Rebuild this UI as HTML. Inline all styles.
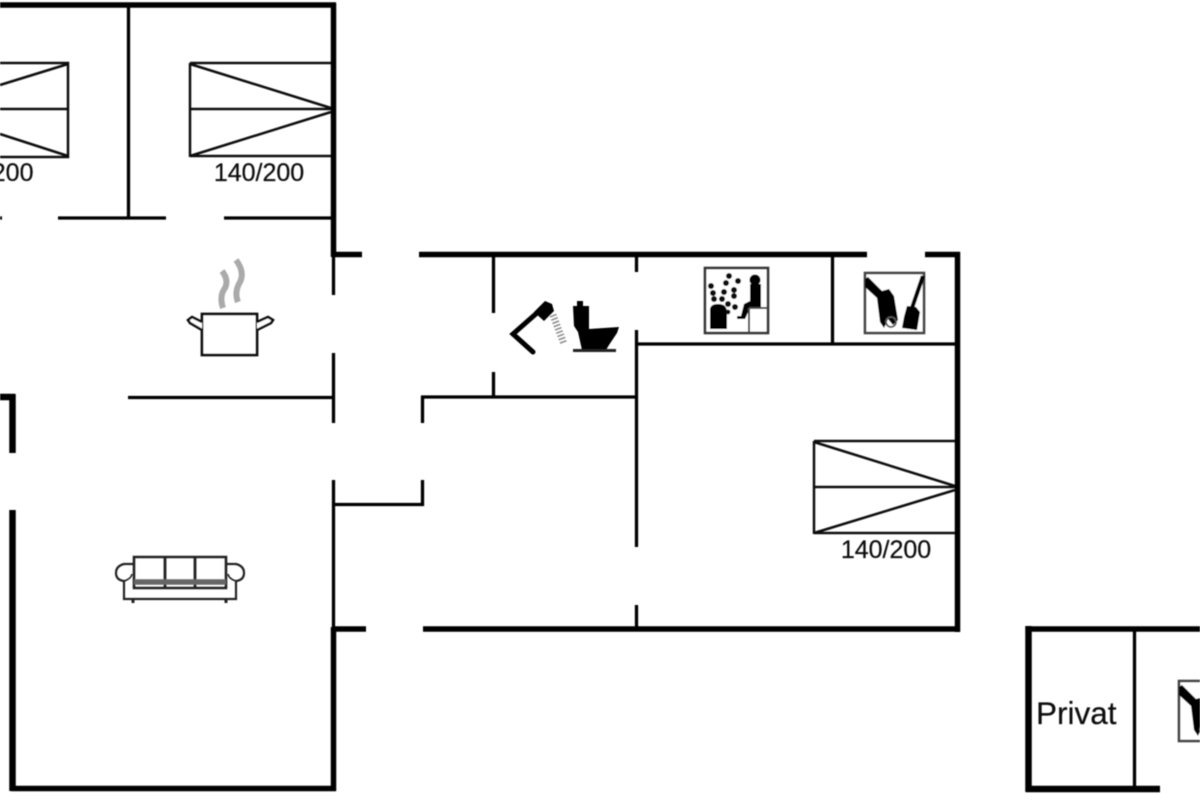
<!DOCTYPE html>
<html><head><meta charset="utf-8"><title>Floor plan</title>
<style>html,body{margin:0;padding:0;background:#fff}svg{display:block}text{font-family:"Liberation Sans",sans-serif;fill:#111;stroke:#111;stroke-width:.25}</style>
</head><body>
<svg width="1200" height="800" viewBox="0 0 1200 800" xmlns="http://www.w3.org/2000/svg">
<defs>
<filter id="b" x="-2%" y="-2%" width="104%" height="104%"><feGaussianBlur stdDeviation="0.6"/></filter>
<clipPath id="c"><rect x="1170" y="670" width="30" height="80"/></clipPath>
<g id="broom">
<rect x="865" y="273" width="59" height="60" fill="#fff" stroke="#444" stroke-width="2.600"/>
<path d="M865 279L868 277L882 291L889 289L894 296L898 320L893 325L888 319L884 328L880 322L877 298L865 287Z" fill="#000"/>
<circle cx="891" cy="322" r="5" fill="none" stroke="#555" stroke-width="1.800"/>
<path d="M923 276L912 308" stroke="#000" stroke-width="4.200" fill="none"/>
<path d="M907 306L916 307L920 312L917 330L902 328L904 317Z" fill="#000"/>
</g>
</defs>
<rect width="1200" height="800" fill="#fff"/>
<g filter="url(#b)">
<g fill="none" stroke="#000" stroke-linecap="butt">
<g stroke-width="5.500">
<path d="M0 5H336M333.500 3V257"/>
<path d="M333 254.500H362M419 254.500H867M925 254.500H960M957.500 252V632"/>
<path d="M333 629H366M423 629H960M333.500 627V791"/>
<path d="M11 788.500H336"/>
</g>
<g stroke-width="6.500">
<path d="M12.500 510V791M12.500 394V453M0 397H15"/>
<path d="M1028.500 626V792M1026 789H1160"/>
</g>
<path d="M1026 629H1200" stroke-width="5.500"/>
<g stroke-width="3.300">
<path d="M128.500 5V218M58 218H166M224 218H333M0 218H2"/>
<path d="M128 397.500H333"/>
<path d="M333.500 257V295M333.500 353V423M333.500 480V629"/>
<path d="M333 504.500H424M422.500 480V506M422.500 396V423"/>
<path d="M421 397H636"/>
<path d="M493.500 257V313M493.500 372V397"/>
<path d="M636.500 257V272M636.500 330V547M636.500 605V629"/>
<path d="M636 344H957M832.500 257V344"/>
<path d="M1134.500 630V788"/>
</g>
<g stroke="#111" stroke-width="2.500">
<path d="M190 63H331M190 63V157M190 156H331M190 109H331M190 64L331 108M190 156L331 112" />
<path d="M0 63H68V157H0M0 109H68M68 64L0 85M68 156L0 134"/>
<path d="M814 441H955M814 441V534M814 533H955M814 487H955M814 442L955 486M814 533L955 490"/>
</g>
</g>
<text x="259" y="181" font-size="25" text-anchor="middle">140/200</text>
<text x="33.500" y="181" font-size="25" text-anchor="end">200</text>
<text x="886" y="558" font-size="25" text-anchor="middle">140/200</text>
<text x="1036" y="724" font-size="31.500">Privat</text>
<!-- shower -->
<path d="M546 305L513 334L533 352" fill="none" stroke="#000" stroke-width="5" stroke-linecap="round"/>
<path d="M534 312L545 301L552 304L554 311L544 321Z" fill="#000"/>
<path d="M553 315L564 344" stroke="#888" stroke-width="7" stroke-dasharray="1.500 2" fill="none"/>
<!-- toilet -->
<path d="M573 306H589V329L619 327L617 333L609 345L606 350H582L578 332L574 326Z" fill="#000"/>
<rect x="577" y="301" width="6" height="5" fill="#000"/>
<path d="M573 350.500H616" stroke="#222" stroke-width="3"/>
<!-- sauna -->
<rect x="705" y="268" width="63" height="65" fill="#fff" stroke="#333" stroke-width="2.600"/>
<path d="M710 329V310Q710 304 718 304Q727 304 727 312V329Z" fill="#000"/>
<g fill="#111"><circle cx="711" cy="286" r="3"/><circle cx="713" cy="293" r="3"/><circle cx="714" cy="299" r="3"/><circle cx="722" cy="299" r="3"/><circle cx="724" cy="292" r="3"/><circle cx="726" cy="283" r="3"/><circle cx="729" cy="276" r="3"/><circle cx="734" cy="290" r="3"/><circle cx="738" cy="281" r="3"/><circle cx="734" cy="296" r="3"/><circle cx="728" cy="304" r="3"/><circle cx="735" cy="307" r="3"/><circle cx="728" cy="312" r="2.400"/></g>
<circle cx="755" cy="280" r="5.500" fill="#000"/>
<path d="M750 284H761V308H750L745 319H737V316H741L744 304L750 301Z" fill="#000"/>
<path d="M749 308H768M749 308V333" stroke="#444" stroke-width="2" fill="none"/>
<use href="#broom"/>
<g clip-path="url(#c)"><use href="#broom" transform="translate(314 408)"/></g>
<!-- pot -->
<path d="M202 314H257V355H202Z" fill="#fff" stroke="#111" stroke-width="2.800"/>
<path d="M202 322L192 317L188 320L190 323L202 330M257 322L268 317L273 320L271 323L257 330" fill="#fff" stroke="#111" stroke-width="2.600"/>
<path d="M223 308Q219 296 225 288Q229 280 222 271M238 302Q234 292 240 282Q245 272 236 260" fill="none" stroke="#aaa" stroke-width="6"/>
<!-- sofa -->
<g fill="none" stroke="#222" stroke-width="2.200">
<path d="M134 557H226V588H134Z" stroke-width="2.600"/>
<path d="M165 557V588M195 557V588" stroke-width="2.800"/>
<path d="M134 582H226" stroke="#666" stroke-width="5.500"/>
<path d="M134 564H124Q116 566 116 573Q116 580 124 581V599H236V581Q244 580 244 573Q244 566 236 564H226"/>
<path d="M124 581Q131 579 132 574" stroke-width="1.600"/>
<path d="M236 581Q229 579 228 574" stroke-width="1.600"/>
<path d="M133 600V603M226 600V603" stroke-width="3"/>
</g>
</g>
</svg>
</body></html>
